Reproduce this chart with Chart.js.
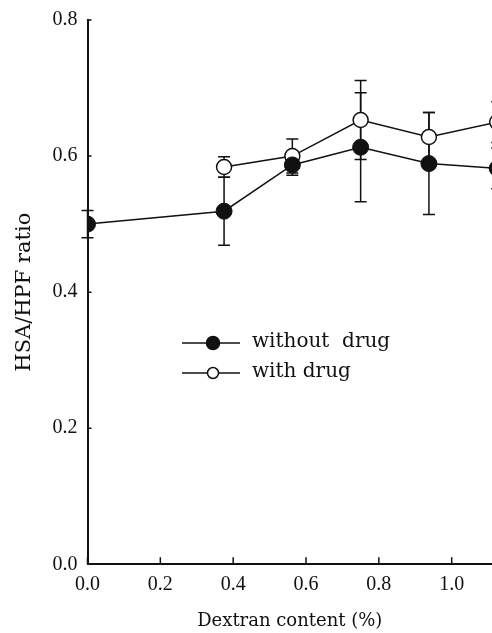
<!DOCTYPE html>
<html>
<head>
<meta charset="utf-8">
<script src="https://cdn.jsdelivr.net/npm/chart.js@4.4.1/dist/chart.umd.min.js"></script>
<style>
    html, body { margin: 0; padding: 0; background: #fff; overflow: hidden; }
    #wrap { position: relative; width: 492px; height: 633px; }
</style>
</head>
<body>
<div id="wrap"><canvas id="chartDextran"></canvas></div>
<script>
/* HSA/HPF ratio vs dextran content — with / without drug, error bars = SD */

// --- DATA ---
const dextranWithout = [0, 0.375, 0.5625, 0.75, 0.9375, 1.125];
const ratioWithout   = [0.500, 0.519, 0.587, 0.613, 0.589, 0.582];
const errWithout     = [0.020, 0.050, 0.015, 0.080, 0.075, 0.030];

const dextranWith = [0.375, 0.5625, 0.75, 0.9375, 1.125];
const ratioWith   = [0.584, 0.600, 0.653, 0.628, 0.650];
const errWith     = [0.015, 0.025, 0.058, 0.036, 0.030];

const ticksX = [0, 0.2, 0.4, 0.6, 0.8, 1.0];
const ticksY = [0, 0.2, 0.4, 0.6, 0.8];
const seriesLabels = ['without  drug', 'with drug'];

const INK = '#111111';
const TICK_FONT = { family: 'Liberation Serif', size: 20 };
const CAP = 6;

// error bars drawn under the markers
const errorBarsPlugin = {
    id: 'errorBars',
    beforeDatasetsDraw(chart) {
        const ctx = chart.ctx;
        const yScale = chart.scales.y;
        ctx.save();
        ctx.strokeStyle = INK;
        ctx.lineWidth = 1.5;
        chart.data.datasets.forEach((ds, i) => {
            const meta = chart.getDatasetMeta(i);
            meta.data.forEach((pt, j) => {
                const v = ds.data[j].y, e = ds.errors[j];
                if (e == null) return;
                const yTop = yScale.getPixelForValue(v + e);
                const yBot = yScale.getPixelForValue(v - e);
                ctx.beginPath();
                ctx.moveTo(pt.x, yTop); ctx.lineTo(pt.x, yBot);
                ctx.moveTo(pt.x - CAP, yTop); ctx.lineTo(pt.x + CAP, yTop);
                ctx.moveTo(pt.x - CAP, yBot); ctx.lineTo(pt.x + CAP, yBot);
                ctx.stroke();
            });
        });
        ctx.restore();
    }
};

// ticks pointing inward + legend inside the plot
const axesAndLegendPlugin = {
    id: 'axesAndLegend',
    afterDraw(chart) {
        const ctx = chart.ctx;
        const { x, y } = chart.scales;
        const area = chart.chartArea;
        ctx.save();
        ctx.strokeStyle = INK;
        ctx.lineWidth = 1.5;
        ctx.beginPath();
        ticksY.forEach(v => {
            const py = y.getPixelForValue(v);
            ctx.moveTo(area.left, py); ctx.lineTo(area.left + 4, py);
        });
        ticksX.forEach(v => {
            const px = x.getPixelForValue(v);
            ctx.moveTo(px, area.bottom); ctx.lineTo(px, area.bottom - 7);
        });
        ctx.stroke();

        // legend
        const rows = [343, 373];
        const lx0 = 182, lx1 = 240, mx = 213, tx = 252;
        ctx.font = '20px "DejaVu Serif"';
        ctx.textBaseline = 'middle';
        ctx.fillStyle = INK;
        rows.forEach((ry, k) => {
            ctx.lineWidth = 1.5;
            ctx.beginPath();
            ctx.moveTo(lx0, ry); ctx.lineTo(lx1, ry);
            ctx.stroke();
            ctx.beginPath();
            ctx.arc(mx, ry, k === 0 ? 6.5 : 5.5, 0, Math.PI * 2);
            ctx.fillStyle = k === 0 ? INK : '#fff';
            ctx.fill();
            ctx.stroke();
            ctx.fillStyle = INK;
            ctx.fillText(seriesLabels[k], tx, ry - 1);
        });
        ctx.restore();
    }
};

const ctxChart = document.getElementById('chartDextran').getContext('2d');
new Chart(ctxChart, {
    type: 'line',
    data: {
        datasets: [
            {
                label: seriesLabels[0],
                data: dextranWithout.map((d, i) => ({ x: d, y: ratioWithout[i] })),
                errors: errWithout,
                borderColor: INK,
                borderWidth: 1.5,
                pointRadius: 8,
                pointBackgroundColor: INK,
                pointBorderColor: INK,
                pointBorderWidth: 1
            },
            {
                label: seriesLabels[1],
                data: dextranWith.map((d, i) => ({ x: d, y: ratioWith[i] })),
                errors: errWith,
                borderColor: INK,
                borderWidth: 1.5,
                pointRadius: 7.5,
                pointBackgroundColor: '#ffffff',
                pointBorderColor: INK,
                pointBorderWidth: 1.5
            }
        ]
    },
    options: {
        responsive: true,
        maintainAspectRatio: false,
        animation: false,
        // no auto padding: the plot runs off the right edge in the original figure
        layout: { autoPadding: false, padding: { top: 20, right: 0, bottom: 0, left: 0 } },
        plugins: { legend: { display: false }, tooltip: { enabled: false } },
        scales: {
            x: {
                type: 'linear',
                min: 0,
                max: 1.1107,
                afterBuildTicks: s => { s.ticks = ticksX.map(v => ({ value: v })); },
                afterFit: s => { s.height = 68.7; s.paddingLeft = 0; s.paddingRight = 0; },
                ticks: { color: INK, font: TICK_FONT, padding: 8, maxRotation: 0, callback: v => v.toFixed(1) },
                grid: { display: true, drawOnChartArea: false, drawTicks: false },
                border: { display: true, color: INK, width: 2 },
                title: { display: true, text: 'Dextran content (%)', color: INK,
                         font: { family: 'DejaVu Serif', size: 18 }, padding: { top: 0, bottom: 1 } }
            },
            y: {
                min: 0,
                max: 0.8,
                afterBuildTicks: s => { s.ticks = ticksY.map(v => ({ value: v })); },
                afterFit: s => { s.width = 87.5; s.paddingTop = 0; s.paddingBottom = 0; },
                ticks: { color: INK, font: TICK_FONT, padding: 10, callback: v => v.toFixed(1) },
                grid: { display: true, drawOnChartArea: false, drawTicks: false },
                border: { display: true, color: INK, width: 2 },
                title: { display: true, text: 'HSA/HPF ratio', color: INK,
                         font: { family: 'DejaVu Serif', size: 21 }, padding: { top: 12, bottom: 0 } }
            }
        }
    },
    plugins: [errorBarsPlugin, axesAndLegendPlugin]
});
</script>
</body>
</html>
